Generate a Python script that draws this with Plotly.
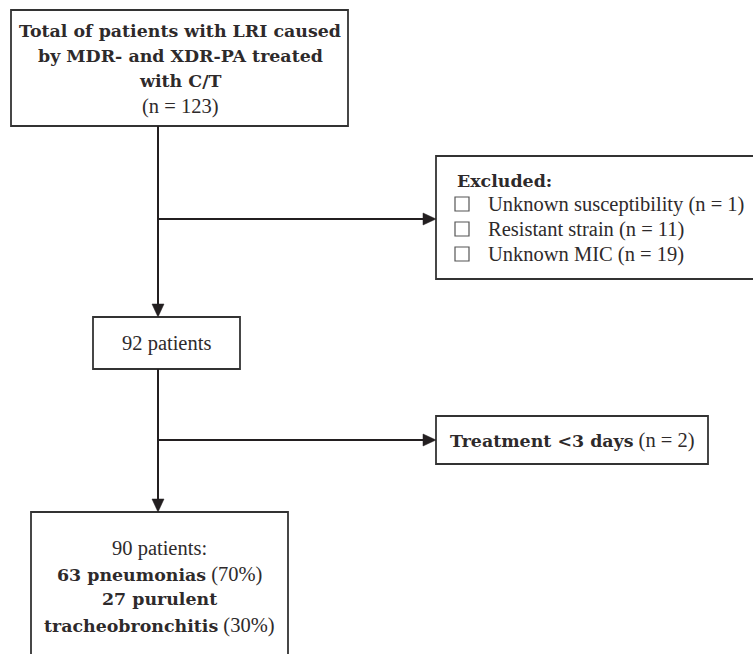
import plotly.graph_objects as go

# ---- content (text / values) ----
total_title = ["Total of patients with LRI caused", "by MDR- and XDR-PA treated", "with C/T"]
total_n = 123
excluded_title = "Excluded:"
excluded_reasons = ["Unknown susceptibility", "Resistant strain", "Unknown MIC"]
excluded_n = [1, 11, 19]
mid_n = 92
short_label = "Treatment <3 days"
short_n = 2
final_n = 90
final_groups = ["pneumonias", "purulent", "tracheobronchitis"]
final_counts = [63, 27]
final_pct = [70, 30]

# ---- layout geometry (pixels in a 753x654 canvas) ----
W, H = 753, 654
INK = "#231f20"
REG_FONT = "Liberation Serif"
REG_FS = 20.5
BOLD_FONT = "DejaVu Serif"
BOLD_FS = 17.4

boxes = {
    "top":   (11, 10, 348, 126),
    "excl":  (436, 156, 770, 279),
    "mid":   (93, 317, 240, 369),
    "short": (436, 416, 708, 464),
    "final": (31, 512, 288, 680),
}

fig = go.Figure()
fig.add_trace(go.Scatter(x=[0, W], y=[0, H], mode="markers", marker=dict(opacity=0),
                         hoverinfo="skip", showlegend=False))

shapes = []
for k, (x0, y0, x1, y1) in boxes.items():
    shapes.append(dict(type="rect", xref="x", yref="y", x0=x0, y0=y0, x1=x1, y1=y1,
                       line=dict(color="#333333", width=1.8), fillcolor="white", layer="below"))

trunk_x = 158
for (x0, y0, x1, y1) in [(trunk_x, 126, trunk_x, 310), (trunk_x, 369, trunk_x, 505),
                         (trunk_x, 219, 429, 219), (trunk_x, 440, 429, 440)]:
    shapes.append(dict(type="line", xref="x", yref="y", x0=x0, y0=y0, x1=x1, y1=y1,
                       line=dict(color=INK, width=2)))

for i in range(len(excluded_reasons)):
    cy = 204 + i * 25
    shapes.append(dict(type="rect", xref="x", yref="y", x0=455, y0=cy - 7, x1=469, y1=cy + 7,
                       line=dict(color="#555555", width=1.2), fillcolor="white"))

def tri_down(x, ytip):
    return dict(type="path", xref="x", yref="y",
                path=f"M {x-6} {ytip-13} L {x+6} {ytip-13} L {x} {ytip} Z",
                fillcolor=INK, line=dict(color=INK, width=0.5))

def tri_right(xtip, y):
    return dict(type="path", xref="x", yref="y",
                path=f"M {xtip-13} {y-6} L {xtip-13} {y+6} L {xtip} {y} Z",
                fillcolor=INK, line=dict(color=INK, width=0.5))

shapes += [tri_down(trunk_x, 317), tri_down(trunk_x, 512), tri_right(436, 219), tri_right(436, 440)]

def B(s):
    return f"<span style=\"font-family:'{BOLD_FONT}';font-size:{BOLD_FS}px\"><b>{s}</b></span>"

ann = []
def txt(x, y, t, anchor="center"):
    ann.append(dict(x=x, y=y, xref="x", yref="y", text=t, showarrow=False, xanchor=anchor, yanchor="middle",
                    font=dict(family=REG_FONT, size=REG_FS, color="#2e2a2b")))

for i, line in enumerate(total_title):
    txt(180, 31 + i * 25, B(line))
txt(180, 106, f"(n = {total_n})")

txt(455, 181, B(excluded_title), anchor="left")
for i, (r, n) in enumerate(zip(excluded_reasons, excluded_n)):
    txt(486, 204 + i * 25, f"{r} (n = {n})", anchor="left")

txt(166.5, 343, f"{mid_n} patients")

txt(572, 440, f"{B(short_label)} (n = {short_n})")

txt(159.5, 548, f"{final_n} patients:")
txt(159.5, 574, f"{B(f'{final_counts[0]} {final_groups[0]}')} ({final_pct[0]}%)")
txt(159.5, 599, B(f"{final_counts[1]} {final_groups[1]}"))
txt(159.5, 625, f"{B(final_groups[2])} ({final_pct[1]}%)")

fig.update_layout(
    width=W, height=H, margin=dict(l=0, r=0, t=0, b=0),
    paper_bgcolor="white", plot_bgcolor="white",
    xaxis=dict(range=[0, W], visible=False, fixedrange=True),
    yaxis=dict(range=[H, 0], visible=False, fixedrange=True),
    shapes=shapes, annotations=ann, showlegend=False,
)
fig.write_html("out.html", config={"displayModeBar": False, "staticPlot": True},
               post_script="document.body.style.margin='0';document.body.style.overflow='hidden';")
